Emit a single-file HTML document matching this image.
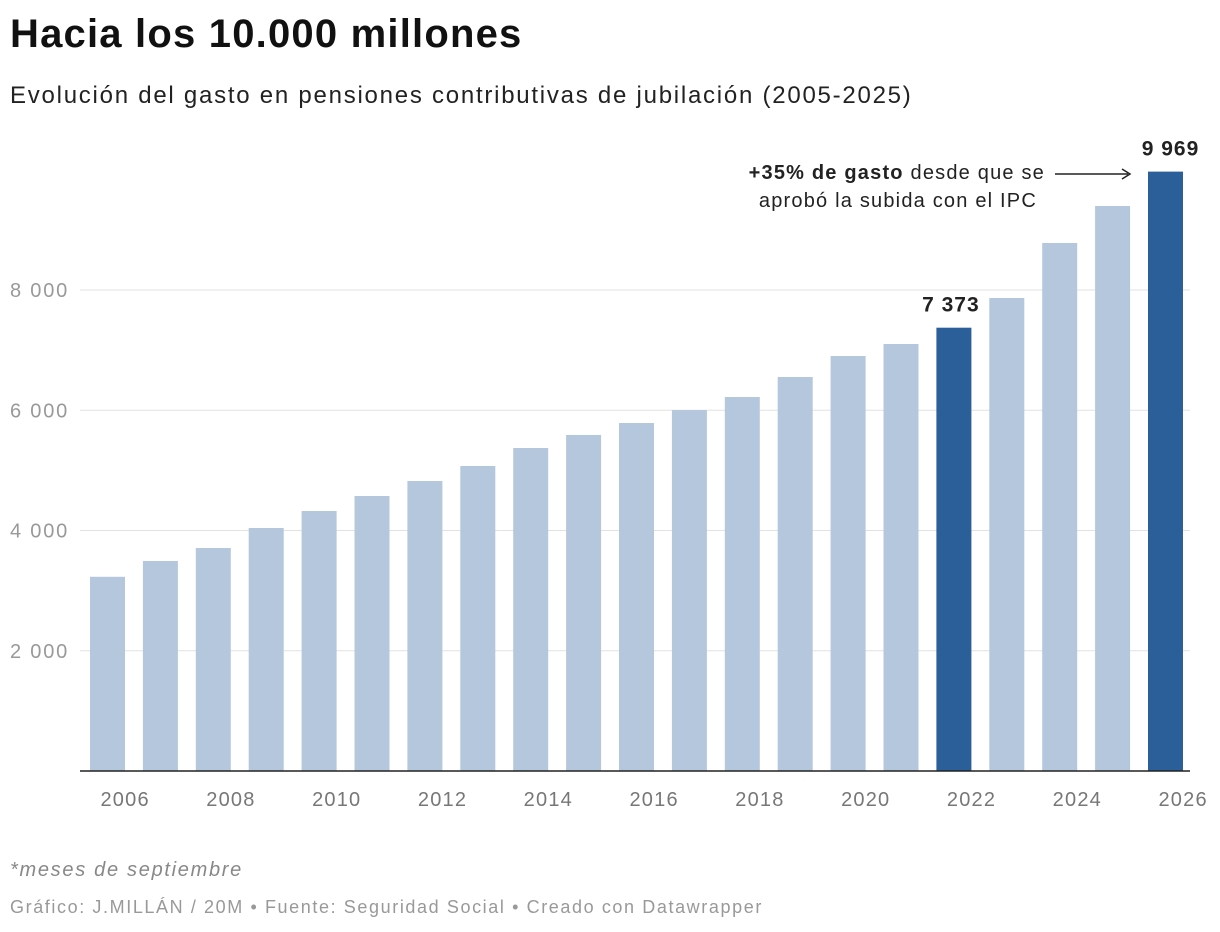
<!DOCTYPE html>
<html><head><meta charset="utf-8">
<style>
body{margin:0;background:#fff;font-family:"Liberation Sans",sans-serif;}
#wrap{position:relative;width:1220px;height:932px;overflow:hidden;}
h1{position:absolute;left:10px;top:12px;margin:0;font-size:40px;font-weight:bold;color:#111;letter-spacing:1.2px;}
.sub{position:absolute;left:10px;top:82px;font-size:24px;color:#222;letter-spacing:1.75px;white-space:nowrap;}
.note{position:absolute;left:10px;top:859px;font-size:20px;font-style:italic;color:#888;letter-spacing:1.7px;}
.cred{position:absolute;left:10px;top:897px;font-size:18px;color:#999;letter-spacing:1.6px;white-space:nowrap;}
svg{position:absolute;left:0;top:0;}
</style></head><body>
<div id="wrap">
<h1>Hacia los 10.000 millones</h1>
<div class="sub">Evolución del gasto en pensiones contributivas de jubilación (2005-2025)</div>
<svg id="chart" width="1220" height="932"></svg>
<div class="note">*meses de septiembre</div>
<div class="cred">Gráfico: J.MILLÁN / 20M • Fuente: Seguridad Social • Creado con Datawrapper</div>
</div>
<script>
const years=[2005,2006,2007,2008,2009,2010,2011,2012,2013,2014,2015,2016,2017,2018,2019,2020,2021,2022,2023,2024,2025];
const values=[3230,3493,3709,4042,4324,4574,4823,5073,5372,5589,5788,6004,6220,6553,6902,7102,7373,7867,8782,9397,9969];
const highlighted=[2021,2025];
const yTicks=[2000,4000,6000,8000];
const yTickLabels=["2 000","4 000","6 000","8 000"];
const xTicks=[2006,2008,2010,2012,2014,2016,2018,2020,2022,2024,2026];

const NS="http://www.w3.org/2000/svg";
const svg=document.getElementById('chart');
const y0=771, pxPer=120.25/2000;
const yS=v=>y0-v*pxPer;
const pitch=52.9, x0=90, bw=35;
const xS=yr=>x0+(yr-2005)*pitch;
function mk(t,a){const e=document.createElementNS(NS,t);for(const k in a)e.setAttribute(k,a[k]);svg.appendChild(e);return e;}

yTicks.forEach((v,i)=>{
 const l=mk('line',{x1:80,x2:1190,y1:yS(v),y2:yS(v),stroke:'#e2e2e2','stroke-width':1});
 
 
 const t=mk('text',{x:10,y:yS(v)+7,'font-size':20,fill:'#999','letter-spacing':1.8});
 t.textContent=yTickLabels[i];
 
 
});
years.forEach((yr,i)=>{
 const hi=highlighted.includes(yr);
 const r=mk('rect',{x:xS(yr),y:yS(values[i]),width:bw,height:y0-yS(values[i]),fill:hi?'#2a5f99':'#b5c7dc'});
 
 
 if(hi){
  const t=mk('text',{x:xS(yr)+bw/2+(yr===2025?5:-3),y:yS(values[i])-16,'font-size':21,'font-weight':'bold',fill:'#222','text-anchor':'middle','letter-spacing':1});
  t.textContent=values[i].toLocaleString('en').replace(',',' ');
  
  
 }
});
const ax=mk('line',{x1:80,x2:1190,y1:y0,y2:y0,stroke:'#222','stroke-width':1.5});


xTicks.forEach(yr=>{
 const t=mk('text',{x:xS(yr-1)+bw/2+pitch/3,y:806,'font-size':20,fill:'#777','text-anchor':'middle','letter-spacing':1.2});
 t.textContent=yr;
 
 
});
const a1=mk('text',{x:1045,y:179,'font-size':20,fill:'#222','text-anchor':'end','letter-spacing':1.2});
a1.innerHTML='<tspan font-weight="bold">+35% de gasto</tspan> desde que se';


const a2=mk('text',{x:1037,y:207,'font-size':20,fill:'#222','text-anchor':'end','letter-spacing':1.2});
a2.textContent='aprobó la subida con el IPC';


const ar=mk('line',{x1:1055,x2:1128,y1:174,y2:174,stroke:'#222','stroke-width':1.5});


const ah=mk('path',{d:'M1122 169 L1130 174 L1122 179',fill:'none',stroke:'#222','stroke-width':1.5});


</script>
</body></html>
